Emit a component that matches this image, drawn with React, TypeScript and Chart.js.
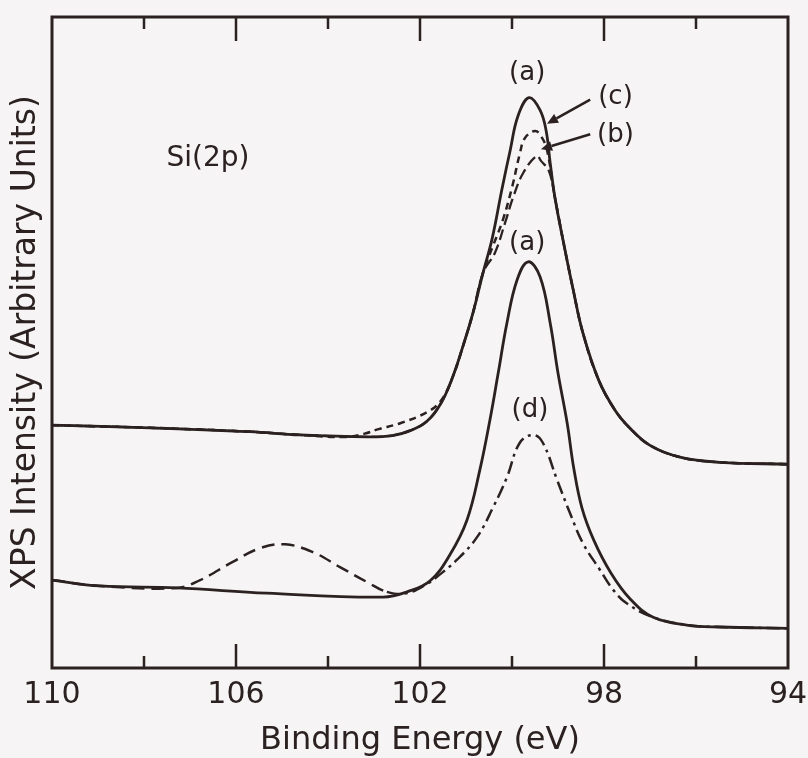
import React, { useEffect, useRef } from "react";
import { Chart, registerables } from "chart.js";
Chart.register(...registerables);

const INK = "#2b2121";
const BG = "#f6f4f5";
const FONT = "'DejaVu Sans', 'Liberation Sans', sans-serif";

// X axis (binding energy, eV), reversed 110 -> 94
const xTickValues = [110, 108, 106, 104, 102, 100, 98, 96, 94];
const xTickLabels = ["110", "", "106", "", "102", "", "98", "", "94"];
const majorTicks = [106, 102, 98];
const minorTicks = [108, 104, 100, 96];

// Upper set: (a) solid
const upperAX = [110, 107.87, 105.7, 104.61, 103.15, 102.6, 102.2, 101.85, 101.55, 101.3, 101.05, 100.85, 100.63, 100.43, 100.22, 100.04, 99.87, 99.63, 99.39, 99.26, 99.17, 99.07, 98.89, 98.67, 98.46, 98.12, 97.76, 97.43, 97.0, 96.35, 95.48, 94];
const upperAY = [37.3, 36.9, 36.3, 35.8, 35.5, 35.7, 36.5, 37.9, 40.6, 44.5, 49.8, 54.5, 60.7, 66.0, 73.5, 79.5, 84.8, 87.6, 85.7, 82.6, 77.6, 72.4, 65.7, 58.1, 51.5, 44.3, 39.6, 36.8, 34.2, 32.4, 31.6, 31.3];

// Upper set: (c) short dashes
const upperCX = [110, 107.87, 105.7, 104.61, 103.6, 103.2, 102.9, 102.43, 101.85, 101.55, 101.3, 101.05, 100.85, 100.63, 100.41, 100.2, 100.0, 99.83, 99.72, 99.5, 99.37, 99.24, 99.07, 98.89, 98.67, 98.46, 98.12, 97.76, 97.43, 97.0, 96.35, 95.48, 94];
const upperCY = [37.3, 36.9, 36.3, 35.8, 35.5, 36.0, 36.7, 37.6, 39.3, 41.0, 44.5, 49.8, 54.5, 60.7, 64.9, 68.8, 73.8, 79.0, 81.4, 82.5, 81.7, 79.6, 72.4, 65.7, 58.1, 51.5, 44.3, 39.6, 36.8, 34.2, 32.4, 31.6, 31.3];

// Upper set: (b) long dashes
const upperBX = [110, 107.87, 105.7, 104.61, 103.15, 102.6, 102.2, 101.85, 101.55, 101.3, 101.05, 100.85, 100.63, 100.37, 100.15, 99.98, 99.76, 99.46, 99.37, 99.2, 99.07, 98.89, 98.67, 98.46, 98.12, 97.76, 97.43, 97.0, 96.35, 95.48, 94];
const upperBY = [37.3, 36.9, 36.3, 35.8, 35.5, 35.7, 36.5, 37.9, 40.6, 44.5, 49.8, 54.5, 60.7, 63.8, 68.4, 72.2, 76.0, 78.7, 77.9, 76.4, 72.4, 65.7, 58.1, 51.5, 44.3, 39.6, 36.8, 34.2, 32.4, 31.6, 31.3];

// Lower set: (a) solid
const lowerAX = [110, 108.96, 107.28, 105.33, 102.8, 102.28, 101.78, 101.35, 100.98, 100.7, 100.48, 100.3, 100.11, 99.89, 99.65, 99.39, 99.17, 99.0, 98.8, 98.66, 98.48, 98.22, 97.85, 97.43, 96.93, 96.2, 95.48, 94];
const lowerAY = [13.5, 12.6, 12.3, 11.5, 10.9, 11.7, 13.4, 17.4, 22.7, 30.4, 38.1, 45.3, 53.0, 59.6, 62.4, 60.1, 53.0, 45.3, 37.6, 30.8, 24.6, 19.6, 14.6, 10.6, 7.8, 6.6, 6.3, 6.1];

// Lower set: (d) dash-dot
const lowerDX = [110, 108.96, 107.28, 106.78, 106.07, 105.48, 104.93, 104.33, 103.74, 103.15, 102.72, 102.28, 101.78, 101.63, 101.2, 100.76, 100.41, 100.11, 99.83, 99.54, 99.33, 99.02, 98.74, 98.46, 98.09, 97.8, 97.5, 96.93, 96.2, 95.48, 94];
const lowerDY = [13.5, 12.6, 12.3, 13.5, 16.3, 18.4, 19.0, 17.8, 15.5, 13.2, 11.7, 11.5, 13.2, 14.0, 16.6, 20.1, 24.7, 29.3, 34.6, 35.8, 34.6, 28.9, 23.8, 19.2, 15.1, 12.0, 9.9, 7.8, 6.6, 6.3, 6.1];

// Text annotations (data coordinates)
const noteTexts = ["(a)", "(a)", "(d)", "Si(2p)"];
const noteX = [99.67, 99.67, 99.61, 106.61];
const noteY = [91.4, 65.3, 39.6, 78.3];
const noteSize = [26, 26, 26, 28];

// Arrow labels (c), (b)
const arrowTexts = ["(c)", "(b)"];
const arrowTextX = [97.75, 97.75];
const arrowTextY = [87.7, 81.9];
const arrowTailX = [98.3, 98.3];
const arrowTailY = [87.3, 82.0];
const arrowHeadX = [99.24, 99.37];
const arrowHeadY = [83.6, 79.7];

const pts = (xs: number[], ys: number[]) => xs.map((x, i) => ({ x, y: ys[i] }));

const bgPlugin = {
  id: "bg",
  beforeDraw(chart: any) {
    const { ctx, width, height } = chart;
    ctx.save();
    ctx.fillStyle = BG;
    ctx.fillRect(0, 0, width, height);
    ctx.restore();
  },
};

const framePlugin = {
  id: "frame",
  afterDatasetsDraw(chart: any) {
    const { ctx, chartArea, scales } = chart;
    const { left, right, top, bottom } = chartArea;
    const xs = scales.x;
    const ys = scales.y;
    ctx.save();
    ctx.strokeStyle = INK;
    ctx.lineWidth = 3;
    ctx.strokeRect(left, top, right - left, bottom - top);
    ctx.lineWidth = 2.5;
    const tick = (v: number, len: number) => {
      const px = xs.getPixelForValue(v);
      ctx.beginPath();
      ctx.moveTo(px, bottom);
      ctx.lineTo(px, bottom - len);
      ctx.moveTo(px, top);
      ctx.lineTo(px, top + len);
      ctx.stroke();
    };
    majorTicks.forEach((v) => tick(v, 24));
    minorTicks.forEach((v) => tick(v, 12));

    // annotations
    ctx.fillStyle = INK;
    ctx.textAlign = "center";
    ctx.textBaseline = "middle";
    noteTexts.forEach((t, i) => {
      ctx.font = `${noteSize[i]}px ${FONT}`;
      ctx.fillText(t, xs.getPixelForValue(noteX[i]), ys.getPixelForValue(noteY[i]));
    });
    ctx.font = `26px ${FONT}`;
    arrowTexts.forEach((t, i) => {
      ctx.fillText(t, xs.getPixelForValue(arrowTextX[i]), ys.getPixelForValue(arrowTextY[i]));
      const tx = xs.getPixelForValue(arrowTailX[i]);
      const ty = ys.getPixelForValue(arrowTailY[i]);
      const hx = xs.getPixelForValue(arrowHeadX[i]);
      const hy = ys.getPixelForValue(arrowHeadY[i]);
      const ang = Math.atan2(hy - ty, hx - tx);
      const L = 11, W = 5;
      const bx = hx - L * Math.cos(ang);
      const by = hy - L * Math.sin(ang);
      ctx.lineWidth = 2.5;
      ctx.beginPath();
      ctx.moveTo(tx, ty);
      ctx.lineTo(bx, by);
      ctx.stroke();
      ctx.beginPath();
      ctx.moveTo(hx, hy);
      ctx.lineTo(bx + W * Math.sin(ang), by - W * Math.cos(ang));
      ctx.lineTo(bx - W * Math.sin(ang), by + W * Math.cos(ang));
      ctx.closePath();
      ctx.fill();
    });
    ctx.restore();
  },
};

export default function App() {
  const ref = useRef<HTMLCanvasElement | null>(null);
  useEffect(() => {
    if (!ref.current) return;
    const common = {
      fill: false,
      pointRadius: 0,
      borderColor: INK,
      cubicInterpolationMode: "default" as const,
      tension: 0.4,
    };
    const chart = new Chart(ref.current, {
      type: "line",
      data: {
        datasets: [
          { ...common, label: "upper (a)", data: pts(upperAX, upperAY), borderWidth: 2.8, order: 0 },
          { ...common, label: "lower (a)", data: pts(lowerAX, lowerAY), borderWidth: 2.8, order: 1 },
          { ...common, label: "upper (c)", data: pts(upperCX, upperCY), borderWidth: 2.5, borderDash: [7, 5], order: 2 },
          { ...common, label: "upper (b)", data: pts(upperBX, upperBY), borderWidth: 2.3, borderDash: [11, 5], order: 3 },
          {
            ...common,
            label: "lower (d)",
            data: pts(lowerDX, lowerDY),
            borderWidth: 2.5,
            borderDash: [13, 5, 3, 5],
            segment: {
              borderDash: (c: any) => (c.p0.parsed.x > 103.0 ? [13, 7] : [13, 5, 3, 5]),
            },
            order: 4,
          },
        ] as any,
      },
      options: {
        animation: false,
        responsive: false,
        events: [],
        layout: { padding: { top: 17, right: 20, left: 0, bottom: 0 } },
        plugins: { legend: { display: false }, tooltip: { enabled: false } },
        scales: {
          x: {
            type: "linear",
            min: 94,
            max: 110,
            reverse: true,
            afterBuildTicks: (s: any) => {
              s.ticks = xTickValues.map((v) => ({ value: v }));
            },
            afterFit: (s: any) => {
              s.height = 90;
              s.paddingLeft = 0;
              s.paddingRight = 0;
            },
            ticks: {
              autoSkip: false,
              maxRotation: 0,
              padding: 1,
              color: INK,
              font: { family: FONT, size: 30 },
              callback: (v: any) => {
                const i = xTickValues.indexOf(Number(v));
                return i >= 0 ? xTickLabels[i] : "";
              },
            },
            grid: { display: false },
            border: { display: false },
            title: {
              display: true,
              text: "Binding Energy (eV)",
              color: INK,
              font: { family: FONT, size: 32, lineHeight: 1 },
              padding: { top: 0, bottom: 1 },
            },
          },
          y: {
            type: "linear",
            min: 0,
            max: 100,
            afterFit: (s: any) => {
              s.width = 52;
            },
            ticks: { display: false },
            grid: { display: false },
            border: { display: false },
            title: {
              display: true,
              text: "XPS Intensity (Arbitrary Units)",
              color: INK,
              font: { family: FONT, size: 33, lineHeight: 1 },
              padding: { top: 10, bottom: 0 },
            },
          },
        },
      } as any,
      plugins: [bgPlugin, framePlugin],
    });
    return () => chart.destroy();
  }, []);
  return (
    <div style={{ position: "fixed", left: 0, top: 0, width: 808, height: 758, background: BG }}>
      <canvas ref={ref} width={808} height={758} style={{ display: "block" }} />
    </div>
  );
}
